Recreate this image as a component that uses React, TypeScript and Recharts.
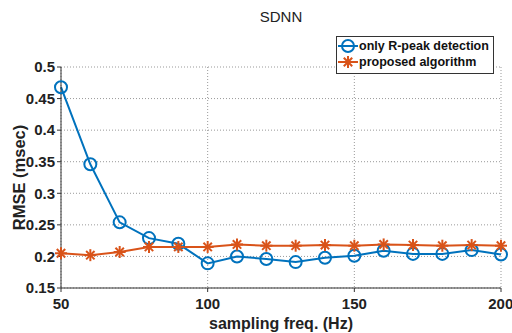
import React from 'react';
import { LineChart, Line, XAxis, YAxis, CartesianGrid, Legend } from 'recharts';

const freqs = [50, 60, 70, 80, 90, 100, 110, 120, 130, 140, 150, 160, 170, 180, 190, 200];
const rPeakOnly = [0.468, 0.346, 0.254, 0.229, 0.22, 0.189, 0.2, 0.196, 0.191, 0.198, 0.201, 0.209, 0.204, 0.204, 0.21, 0.203];
const proposed = [0.205, 0.202, 0.207, 0.215, 0.215, 0.215, 0.219, 0.217, 0.217, 0.218, 0.217, 0.219, 0.218, 0.217, 0.218, 0.217];
const xTicks = [50, 100, 150, 200];
const yTicks = [0.15, 0.2, 0.25, 0.3, 0.35, 0.4, 0.45, 0.5];

const BLUE = '#0072BD';
const ORANGE = '#D95319';
const FONT = '"Liberation Sans", Arial, Helvetica, sans-serif';

const data = freqs.map((f, i) => ({ f, rpeak: rPeakOnly[i], prop: proposed[i] }));

const Star = (props: any) => {
  const { cx, cy, size = 6, stroke = ORANGE } = props;
  if (cx == null || cy == null) return null;
  const d = size * 0.7;
  return (
    <g stroke={stroke} strokeWidth={2}>
      <line x1={cx - size} y1={cy} x2={cx + size} y2={cy} />
      <line x1={cx} y1={cy - size} x2={cx} y2={cy + size} />
      <line x1={cx - d} y1={cy - d} x2={cx + d} y2={cy + d} />
      <line x1={cx - d} y1={cy + d} x2={cx + d} y2={cy - d} />
    </g>
  );
};

const LegendBox = () => (
  <div
    style={{
      border: '1px solid #333',
      background: '#fff',
      width: 156,
      height: 35,
      padding: '1px 0 0 0',
      fontFamily: FONT,
      fontWeight: 'bold',
      fontSize: 12.5,
      color: '#111',
      boxSizing: 'content-box',
    }}
  >
    <div style={{ display: 'flex', alignItems: 'center', height: 16 }}>
      <svg width={22} height={16}>
        <line x1={1} y1={8} x2={21} y2={8} stroke={BLUE} strokeWidth={2} />
        <circle cx={11} cy={8} r={6} fill="none" stroke={BLUE} strokeWidth={2} />
      </svg>
      <span>only R-peak detection</span>
    </div>
    <div style={{ display: 'flex', alignItems: 'center', height: 16 }}>
      <svg width={22} height={16}>
        <line x1={1} y1={8} x2={21} y2={8} stroke={ORANGE} strokeWidth={2} />
        <Star cx={11} cy={8} size={6} />
      </svg>
      <span>proposed algorithm</span>
    </div>
  </div>
);

export default function App() {
  return (
    <div style={{ width: 512, height: 333, background: '#fff', position: 'relative' }}>
      <style>{'body{margin:0}'}</style>
      <div
        style={{
          position: 'absolute',
          left: 0,
          width: 562,
          top: 8,
          textAlign: 'center',
          fontFamily: FONT,
          fontSize: 15,
          lineHeight: '18px',
          color: '#222',
        }}
      >
        SDNN
      </div>
      <LineChart width={512} height={333} data={data} margin={{ top: 29, right: 11, left: 0, bottom: 0 }}>
        <CartesianGrid stroke="#999" strokeDasharray="1 2" />
        <XAxis
          dataKey="f"
          type="number"
          domain={[50, 200]}
          ticks={xTicks}
          height={45}
          stroke="#333"
          tickSize={4}
          tick={{ fontFamily: FONT, fontWeight: 'bold', fontSize: 15, fill: '#222' }}
          tickMargin={6}
          label={{
            value: 'sampling freq. (Hz)',
            position: 'insideBottom',
            offset: 4,
            style: { fontFamily: FONT, fontWeight: 'bold', fontSize: 16, fill: '#222' },
          }}
        />
        <YAxis
          type="number"
          domain={[0.15, 0.5]}
          ticks={yTicks}
          width={61}
          stroke="#333"
          tickSize={4}
          tickFormatter={(v: number) => String(Number(v.toFixed(2)))}
          tick={{ fontFamily: FONT, fontWeight: 'bold', fontSize: 15, fill: '#222' }}
          label={{
            value: 'RMSE (msec)',
            angle: -90,
            position: 'insideLeft',
            offset: 19,
            style: { fontFamily: FONT, fontWeight: 'bold', fontSize: 16.5, fill: '#222', textAnchor: 'middle' },
          }}
        />
        <Legend
          verticalAlign="top"
          align="right"
          content={() => <LegendBox />}
          wrapperStyle={{ position: 'absolute', left: 336, top: 36, width: 158 }}
        />
        <Line
          dataKey="rpeak"
          stroke={BLUE}
          strokeWidth={2}
          dot={{ r: 6, fill: 'none', stroke: BLUE, strokeWidth: 2 }}
          isAnimationActive={false}
        />
        <Line
          dataKey="prop"
          stroke={ORANGE}
          strokeWidth={2}
          dot={(p: any) => <Star key={p.index} cx={p.cx} cy={p.cy} size={6} />}
          isAnimationActive={false}
        />
      </LineChart>
    </div>
  );
}
